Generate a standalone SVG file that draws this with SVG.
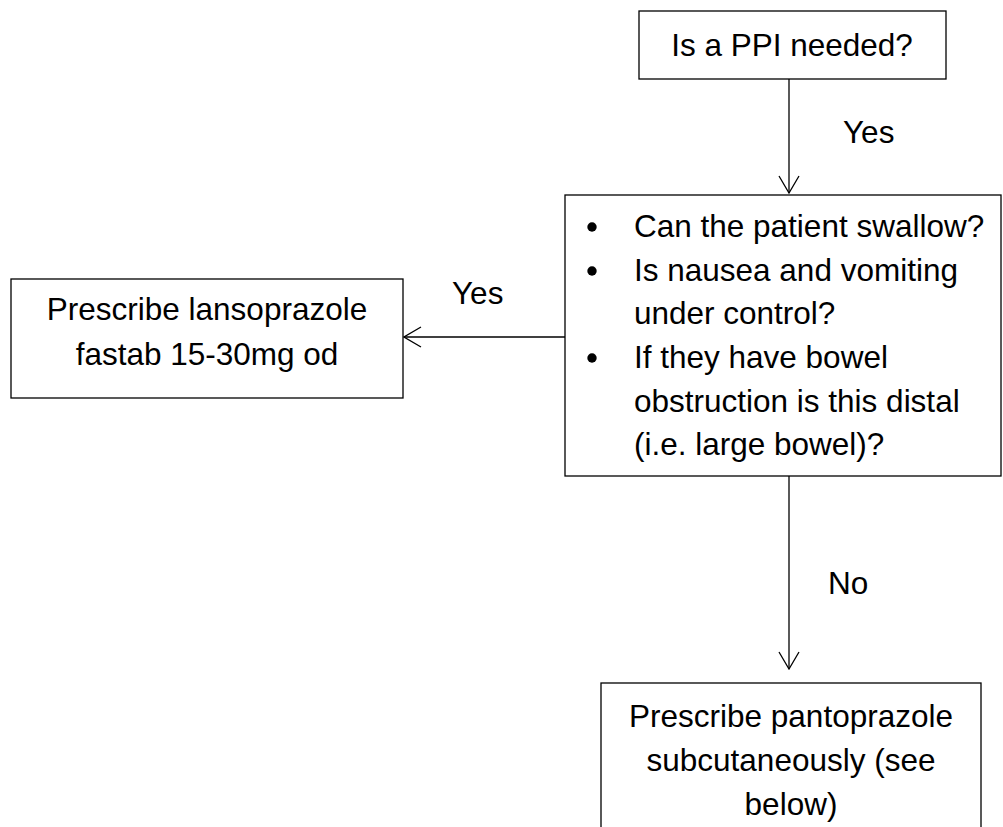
<svg xmlns="http://www.w3.org/2000/svg" width="1003" height="827" viewBox="0 0 1003 827">
<style>
.box{fill:#fff;stroke:#000;stroke-width:1.3}
.t{font-family:"Liberation Sans",Arial,sans-serif;font-size:31.5px;fill:#000}
.c{text-anchor:middle}
.ln{fill:none;stroke:#000;stroke-width:1.3}
</style>
<defs>
<marker id="arr" viewBox="0 0 20 24" refX="19" refY="12" markerWidth="20" markerHeight="24" markerUnits="userSpaceOnUse" orient="auto">
<path d="M2,2 L19,12 L2,22" fill="none" stroke="#000" stroke-width="1.3"/>
</marker>
</defs>
<rect width="1003" height="827" fill="#fff"/>
<g id="connectors">
<line class="ln" x1="789" y1="79" x2="789" y2="193" marker-end="url(#arr)"/>
<line class="ln" x1="565" y1="337" x2="404" y2="337" marker-end="url(#arr)"/>
<line class="ln" x1="789" y1="476" x2="789" y2="669" marker-end="url(#arr)"/>
<text class="t" x="843" y="143">Yes</text>
<text class="t" x="452" y="304">Yes</text>
<text class="t" x="828" y="594">No</text>
</g>
<g id="n-ppi">
<rect class="box" x="639" y="11" width="307" height="68"/>
<text class="t c" x="792" y="56">Is a PPI needed?</text>
</g>
<g id="n-questions">
<rect class="box" x="565" y="195" width="436" height="281"/>
<circle cx="592" cy="227" r="4.7"/>
<circle cx="592" cy="271" r="4.7"/>
<circle cx="592" cy="358" r="4.7"/>
<text class="t" x="634" y="237">Can the patient swallow?</text>
<text class="t" x="634" y="281">Is nausea and vomiting</text>
<text class="t" x="634" y="324">under control?</text>
<text class="t" x="634" y="368">If they have bowel</text>
<text class="t" x="634" y="412">obstruction is this distal</text>
<text class="t" x="634" y="455">(i.e. large bowel)?</text>
</g>
<g id="n-lansoprazole">
<rect class="box" x="11" y="279" width="392" height="119"/>
<text class="t c" x="207" y="320">Prescribe lansoprazole</text>
<text class="t c" x="207" y="365">fastab 15-30mg od</text>
</g>
<g id="n-pantoprazole">
<rect class="box" x="601" y="683" width="380" height="170"/>
<text class="t c" x="791" y="727">Prescribe pantoprazole</text>
<text class="t c" x="791" y="771">subcutaneously (see</text>
<text class="t c" x="791" y="815">below)</text>
</g>
</svg>
